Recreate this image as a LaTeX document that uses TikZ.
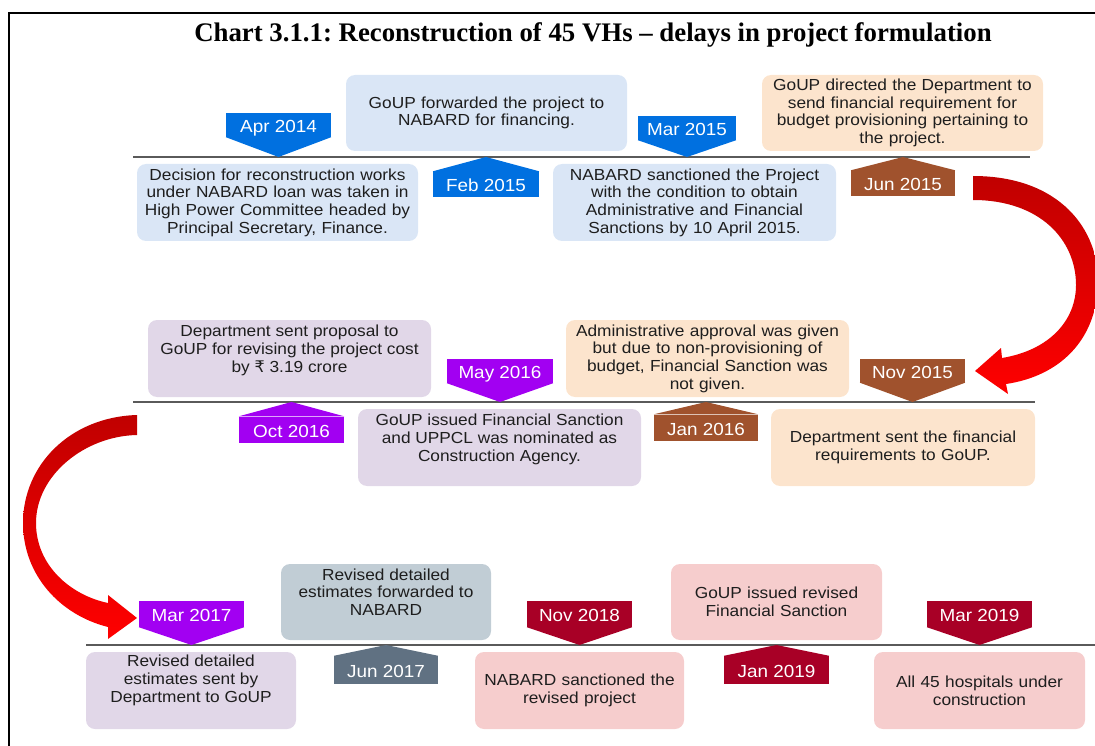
\documentclass[tikz,border=0pt]{standalone}
\usepackage{fontspec}
\setmainfont{Liberation Serif}
\newfontfamily\chartsans{Liberation Sans}[FakeStretch=1.08]
\newfontfamily\rupeefont{DejaVu Sans}
\newcommand{\chartbody}{\chartsans\fontsize{16}{17.7}\selectfont}
\newcommand{\chartmark}{\chartsans\fontsize{17.5}{18}\selectfont}
\frenchspacing

\definecolor{markblue}{RGB}{0,112,224}
\definecolor{boxblue}{RGB}{218,230,246}
\definecolor{markbrown}{RGB}{160,82,45}
\definecolor{boxpeach}{RGB}{252,228,205}
\definecolor{markpurple}{RGB}{162,0,242}
\definecolor{boxlav}{RGB}{225,215,232}
\definecolor{markslate}{RGB}{96,113,130}
\definecolor{boxslate}{RGB}{193,205,213}
\definecolor{markred}{RGB}{168,0,38}
\definecolor{boxpink}{RGB}{246,205,205}
\definecolor{arrowdark}{RGB}{192,0,0}
\definecolor{arrowlight}{RGB}{255,0,0}
\definecolor{linegray}{RGB}{90,90,90}
\definecolor{inktext}{RGB}{30,30,30}

\begin{document}
\begin{tikzpicture}[x=1pt,y=-1pt,
  panel/.style={fill=#1,rounded corners=9,minimum height=77,inner sep=0,align=center,text=inktext,font=\chartbody},
  bodytext/.style={align=center,text=inktext,font=\chartbody},
  dmark/.style={fill=#1,text=white,minimum width=105,minimum height=24,inner sep=0,text height=18,text depth=3,font=\chartmark},
  umark/.style={dmark=#1,minimum height=26},
  tline/.style={draw=linegray,line width=2},
  redarrow/.style={top color=arrowdark,bottom color=arrowlight}]
  \useasboundingbox (0,0) rectangle (1095,746);

  % frame and title
  \draw[line width=2] (9,746) -- (9,13) -- (1095,13);
  \node (title) at (593,35) {\fontsize{26.8}{30}\selectfont\bfseries Chart 3.1.1: Reconstruction of 45 VHs – delays in project formulation};

  % row 1
  \coordinate (r1a) at (133,157);
  \coordinate (r1b) at (1030,157);
  \draw[tline] (r1a) -- (r1b);
  \node (decision) at (277.5,202.5) [panel=boxblue,minimum width=281,text width=272] {Decision for reconstruction works\\under NABARD loan was taken in\\High Power Committee headed by\\Principal Secretary, Finance.};
  \node (forwarded) at (486.5,113) [panel=boxblue,minimum width=281,minimum height=76,text width=272] {GoUP forwarded the project to\\NABARD for financing.};
  \node (sanctioned) at (694.5,202.5) [panel=boxblue,minimum width=283,text width=274] {NABARD sanctioned the Project\\with the condition to obtain\\Administrative and Financial\\Sanctions by 10 April 2015.};
  \node (directed) at (902.5,113) [panel=boxpeach,minimum width=281,minimum height=76,text width=272] {GoUP directed the Department to\\send financial requirement for\\budget provisioning pertaining to\\the project.};

  \node (apr14) at (278.5,125) [dmark=markblue] {Apr 2014};
  \fill[markblue] (apr14.south west) -- (apr14.south east) -- (apr14.south |- r1a) -- cycle;
  \node (feb15) at (486,184.5) [umark=markblue,minimum width=106] {Feb 2015};
  \fill[markblue] (feb15.north west) -- (feb15.north east) -- (feb15.north |- r1a) -- cycle;
  \node (mar15) at (687,128) [dmark=markblue,minimum width=98] {Mar 2015};
  \fill[markblue] (mar15.south west) -- (mar15.south east) -- (mar15.south |- r1a) -- cycle;
  \node (jun15) at (903,183.5) [umark=markbrown,minimum width=104] {Jun 2015};
  \fill[markbrown] (jun15.north west) -- (jun15.north east) -- (jun15.north |- r1a) -- cycle;

  % row 2
  \coordinate (r2a) at (133,402);
  \coordinate (r2b) at (1035,402);
  \draw[tline] (r2a) -- (r2b);
  \node (proposal) at (289.5,358.5) [panel=boxlav,minimum width=283,label={[bodytext,yshift=8pt]center:{Department sent proposal to\\GoUP for revising the project cost\\by {\rupeefont ₹} 3.19 crore}}] {};
  \node (issuedfs) at (499.5,447.5) [panel=boxlav,minimum width=283,label={[bodytext,yshift=8pt]center:{GoUP issued Financial Sanction\\and UPPCL was nominated as\\Construction Agency.}}] {};
  \node (adminok) at (707.5,358.5) [panel=boxpeach,minimum width=283,text width=274] {Administrative approval was given\\but due to non-provisioning of\\budget, Financial Sanction was\\not given.};
  \node (sentreq) at (903,447.5) [panel=boxpeach,minimum width=264,text width=255] {Department sent the financial\\requirements to GoUP.};

  \node (may16) at (500,371) [dmark=markpurple,minimum width=106] {May 2016};
  \fill[markpurple] (may16.south west) -- (may16.south east) -- (may16.south |- r2a) -- cycle;
  \node (oct16) at (291.5,429.5) [umark=markpurple] {Oct 2016};
  \fill[markpurple] (oct16.north west) -- (oct16.north east) -- (oct16.north |- r2a) -- cycle;
  \node (jan16) at (706,427.5) [umark=markbrown,minimum width=104] {Jan 2016};
  \fill[markbrown] (jan16.north west) -- (jan16.north east) -- (jan16.north |- r2a) -- cycle;
  \node (nov15) at (912.5,370.5) [dmark=markbrown] {Nov 2015};
  \fill[markbrown] (nov15.south west) -- (nov15.south east) -- (nov15.south |- r2a) -- cycle;

  % row 3
  \coordinate (r3a) at (86,645);
  \coordinate (r3b) at (1095,645);
  \draw[tline] (r3a) -- (r3b);
  \node (sentgoup) at (191,690.5) [panel=boxlav,minimum width=210,label={[bodytext,yshift=10pt]center:{Revised detailed\\estimates sent by\\Department to GoUP}}] {};
  \node (fwdnabard) at (386,602) [panel=boxslate,minimum width=210,minimum height=76,label={[bodytext,yshift=10pt]center:{Revised detailed\\estimates forwarded to\\NABARD}}] {};
  \node (revsanc) at (579.5,690.5) [panel=boxpink,minimum width=209,text width=200] {NABARD sanctioned the\\revised project};
  \node (revfs) at (776.5,602) [panel=boxpink,minimum width=211,minimum height=76,text width=200] {GoUP issued revised\\Financial Sanction};
  \node (hospitals) at (979.5,690.5) [panel=boxpink,minimum width=211,text width=200] {All 45 hospitals under\\construction};

  \node (mar17) at (191.5,614) [dmark=markpurple,minimum height=26] {Mar 2017};
  \fill[markpurple] (mar17.south west) -- (mar17.south east) -- (mar17.south |- r3a) -- cycle;
  \node (jun17) at (386,670) [umark=markslate,minimum height=28,minimum width=104] {Jun 2017};
  \fill[markslate] (jun17.north west) -- (jun17.north east) -- (jun17.north |- r3a) -- cycle;
  \node (nov18) at (579.5,614) [dmark=markred,minimum height=26] {Nov 2018};
  \fill[markred] (nov18.south west) -- (nov18.south east) -- (nov18.south |- r3a) -- cycle;
  \node (jan19) at (776.5,670) [umark=markred,minimum height=28] {Jan 2019};
  \fill[markred] (jan19.north west) -- (jan19.north east) -- (jan19.north |- r3a) -- cycle;
  \node (mar19) at (979.5,614) [dmark=markred,minimum height=26] {Mar 2019};
  \fill[markred] (mar19.south west) -- (mar19.south east) -- (mar19.south |- r3a) -- cycle;

  % red turn arrows between the rows
  \shade[redarrow] (973,176) .. controls (1060,176) and (1100,230) .. (1098,285) .. controls (1096,340) and (1060,376) .. (1006,384) -- (1008,394) -- (975,371) -- (1001,348) -- (1002,358) .. controls (1050,350) and (1076,320) .. (1076,285) .. controls (1076,240) and (1040,200) .. (973,200) -- cycle;
  \shade[redarrow] (137,415) .. controls (70,417) and (23,465) .. (23,523) .. controls (23,575) and (60,615) .. (108,627) -- (108,639) -- (137,618) -- (108,595) -- (108,603) .. controls (70,595) and (36,565) .. (36,523) .. controls (36,475) and (85,436) .. (137,435) -- cycle;
\end{tikzpicture}
\end{document}
